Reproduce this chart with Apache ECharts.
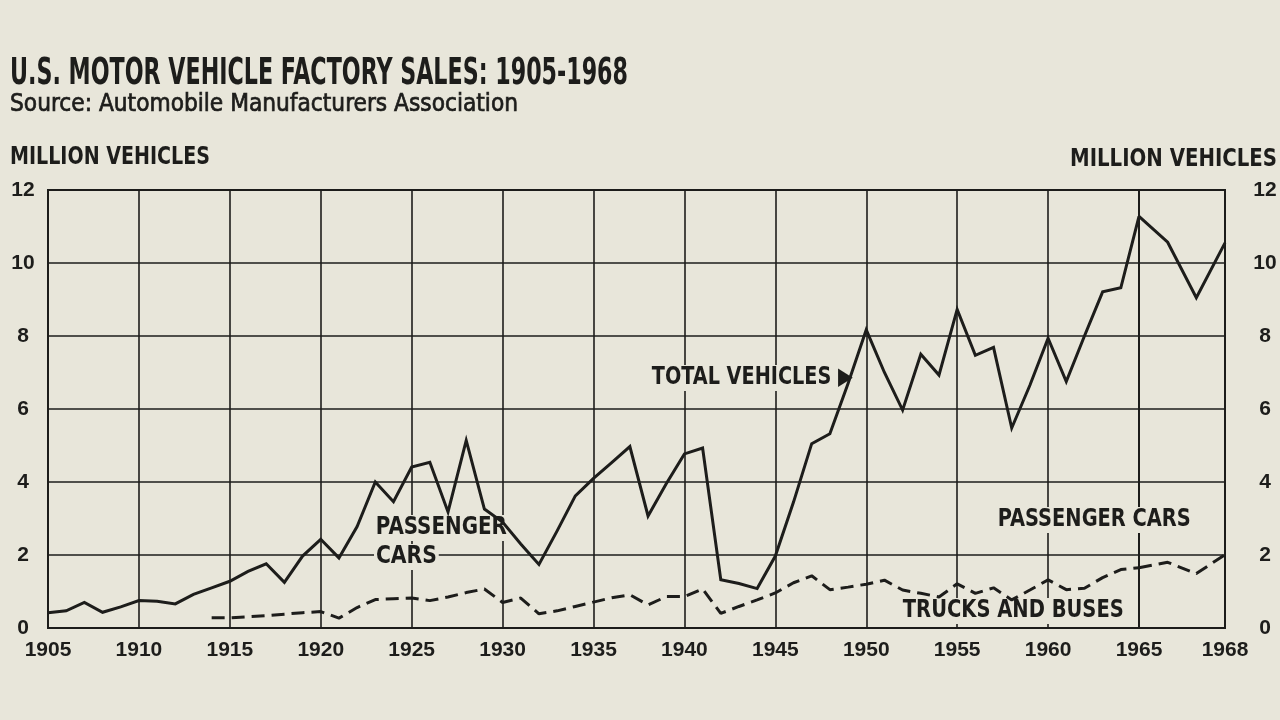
<!DOCTYPE html>
<html>
<head>
<meta charset="utf-8">
<script src="https://cdn.jsdelivr.net/npm/echarts@6/dist/echarts.min.js"></script>
<style>
  html, body { margin: 0; padding: 0; background: #e8e6da; }
  #chart { width: 1280px; height: 720px; }
</style>
</head>
<body>
<div id="chart"></div>
<script>
// ---------------- DATA ----------------
const years = [1905,1906,1907,1908,1909,1910,1911,1912,1913,1914,1915,1916,1917,1918,1919,1920,
  1921,1922,1923,1924,1925,1926,1927,1928,1929,1930,1931,1932,1933,1934,1935,1936,1937,1938,1939,1940,
  1941,1942,1943,1944,1945,1946,1947,1948,1949,1950,1951,1952,1953,1954,1955,1956,1957,1958,1959,1960,
  1961,1962,1963,1964,1965,1966,1967,1968];

// Total vehicles, million (solid line)
const totalVehicles = [0.42,0.47,0.70,0.43,0.58,0.75,0.73,0.66,0.92,1.10,1.28,1.55,1.76,1.25,1.97,2.43,
  1.92,2.78,4.00,3.46,4.41,4.54,3.18,5.14,3.26,2.90,2.30,1.74,2.66,3.62,4.10,4.53,4.97,3.07,3.95,4.77,
  4.93,1.32,1.22,1.08,1.97,3.45,5.05,5.32,6.70,8.17,7.00,5.97,7.50,6.93,8.73,7.47,7.69,5.48,6.65,7.94,
  6.75,8.00,9.21,9.32,11.28,10.57,9.05,10.55];

// Trucks and buses, million (dashed line), starts 1914
const trucksAndBuses = [null,null,null,null,null,null,null,null,null,0.28,0.28,0.31,0.34,0.38,0.42,0.45,
  0.27,0.56,0.78,0.80,0.82,0.75,0.85,0.97,1.07,0.70,0.82,0.39,0.47,0.59,0.71,0.83,0.91,0.63,0.86,0.86,
  1.07,0.40,0.59,0.77,0.96,1.24,1.43,1.05,1.12,1.20,1.31,1.04,0.95,0.85,1.21,0.95,1.10,0.77,1.04,1.32,
  1.05,1.09,1.38,1.60,1.65,1.80,1.49,2.01];

const xTickYears = [1905,1910,1915,1920,1925,1930,1935,1940,1945,1950,1955,1960,1965,1968];
const yTicks = [0,2,4,6,8,10,12];

// ---------------- STYLE ----------------
const paper = '#e8e6da';
const ink = '#1d1d1b';
const narrow = "'Liberation Sans Narrow', 'DejaVu Sans Condensed', 'Liberation Sans', sans-serif";
const regular = "'Liberation Sans', 'DejaVu Sans', sans-serif";

const BREAK = 1965; // the printed scale widens after 1965

function pairs(values, from, to) {
  const out = [];
  years.forEach((y, i) => { if (y >= from && y <= to) out.push([y, values[i]]); });
  return out;
}

const mctx = document.createElement('canvas').getContext('2d');
function fit(text, font, width) {
  mctx.font = font;
  return width / mctx.measureText(text).width;
}
function label(text, x, y, font, width, bg, embolden) {
  const el = {
    type: 'text', x: x, y: y, z: 3,
    scaleX: fit(text, font, width),
    style: { text: text, font: font, fill: ink, align: 'left', verticalAlign: 'middle' }
  };
  if (bg) { el.style.backgroundColor = paper; el.style.padding = [1, 2]; }
  if (embolden) { el.style.stroke = ink; el.style.lineWidth = embolden; }
  return el;
}

const tickLabel = { color: ink, fontSize: 21, fontWeight: 'bold', fontFamily: regular };

const chart = echarts.init(document.getElementById('chart'));
const lineSolid = { color: ink, width: 3, join: 'miter' };
const lineDash = { color: ink, width: 3, type: [13, 7] };

chart.setOption({
  backgroundColor: paper,
  animation: false,
  grid: [
    { left: 48, top: 190, width: 1091, height: 438, show: true, borderColor: ink, borderWidth: 2, backgroundColor: 'transparent' },
    { left: 1139, top: 190, width: 86, height: 438, show: true, borderColor: ink, borderWidth: 2, backgroundColor: 'transparent' }
  ],
  xAxis: [
    { type: 'value', gridIndex: 0, min: 1905, max: BREAK, interval: 5,
      axisLine: { show: false }, axisTick: { show: false },
      splitLine: { show: true, lineStyle: { color: ink, width: 1.6 } },
      axisLabel: Object.assign({ margin: 12, formatter: v => xTickYears.includes(v) ? String(v) : '' }, tickLabel) },
    { type: 'value', gridIndex: 1, min: BREAK, max: 1968, interval: 3,
      axisLine: { show: false }, axisTick: { show: false },
      splitLine: { show: true, lineStyle: { color: ink, width: 1.6 } },
      axisLabel: Object.assign({ margin: 12, showMinLabel: false, formatter: v => xTickYears.includes(v) ? String(v) : '' }, tickLabel) }
  ],
  yAxis: [
    { type: 'value', gridIndex: 0, position: 'left', min: 0, max: 12, interval: 2,
      axisLine: { show: false }, axisTick: { show: false },
      splitLine: { show: true, lineStyle: { color: ink, width: 1.6 } },
      axisLabel: Object.assign({ margin: 25, align: 'center', formatter: v => yTicks.includes(v) ? String(v) : '' }, tickLabel) },
    { type: 'value', gridIndex: 1, position: 'right', min: 0, max: 12, interval: 2,
      axisLine: { show: false }, axisTick: { show: false },
      splitLine: { show: true, lineStyle: { color: ink, width: 1.6 } },
      axisLabel: Object.assign({ margin: 40, align: 'center', formatter: v => yTicks.includes(v) ? String(v) : '' }, tickLabel) }
  ],
  series: [
    { name: 'Total vehicles', type: 'line', xAxisIndex: 0, yAxisIndex: 0, symbol: 'none',
      data: pairs(totalVehicles, 1905, BREAK), lineStyle: lineSolid, z: 10 },
    { name: 'Total vehicles', type: 'line', xAxisIndex: 1, yAxisIndex: 1, symbol: 'none',
      data: pairs(totalVehicles, BREAK, 1968), lineStyle: lineSolid, z: 10 },
    { name: 'Trucks and buses', type: 'line', xAxisIndex: 0, yAxisIndex: 0, symbol: 'none',
      data: pairs(trucksAndBuses, 1914, BREAK), lineStyle: lineDash, z: 10 },
    { name: 'Trucks and buses', type: 'line', xAxisIndex: 1, yAxisIndex: 1, symbol: 'none',
      data: pairs(trucksAndBuses, BREAK, 1968), lineStyle: lineDash, z: 10 }
  ],
  graphic: [
    label('U.S. MOTOR VEHICLE FACTORY SALES: 1905-1968', 10, 74, 'bold 37px ' + narrow, 618),
    label('Source: Automobile Manufacturers Association', 10, 104, '25px ' + narrow, 508, false, 0.7),
    label('MILLION VEHICLES', 10, 158, 'bold 24px ' + narrow, 200),
    label('MILLION VEHICLES', 1070, 160, 'bold 24px ' + narrow, 207),
    label('TOTAL VEHICLES \u25B6', 650, 378, 'bold 24px ' + narrow, 201, true),
    label('PASSENGER', 374, 528, 'bold 24px ' + narrow, 131, true),
    label('CARS', 374, 557, 'bold 24px ' + narrow, 61, true),
    label('PASSENGER CARS', 996, 520, 'bold 24px ' + narrow, 193, true),
    label('TRUCKS AND BUSES', 901, 611, 'bold 24px ' + narrow, 221, true)
  ]
});
</script>
</body>
</html>
